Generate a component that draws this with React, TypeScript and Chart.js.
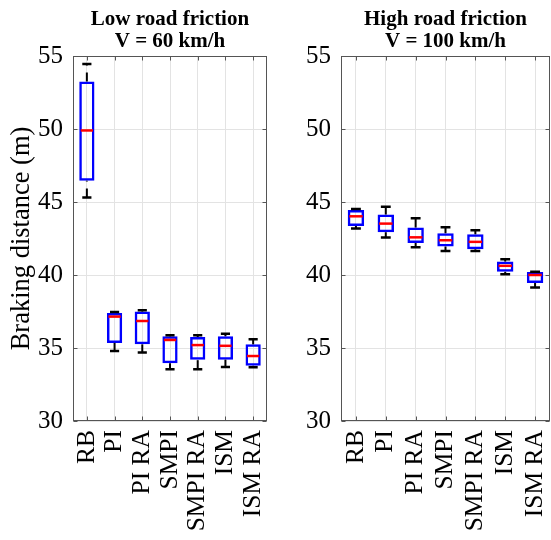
import React, { useEffect, useRef } from 'react';
import { Chart, registerables } from 'chart.js';
Chart.register(...registerables);

const categories = ['RB', 'PI', 'PI RA', 'SMPI', 'SMPI RA', 'ISM', 'ISM RA'];

// Low road friction, V = 60 km/h
const lowMin = [45.3, 34.8, 34.7, 33.55, 33.55, 33.7, 33.68];
const lowQ1 = [46.45, 35.35, 35.25, 33.95, 34.2, 34.2, 33.78];
const lowMed = [49.9, 37.15, 36.85, 35.55, 35.2, 35.15, 34.45];
const lowQ3 = [53.25, 37.4, 37.5, 35.8, 35.75, 35.8, 35.25];
const lowMax = [54.45, 37.47, 37.58, 35.88, 35.88, 35.98, 35.6];

// High road friction, V = 100 km/h
const highMin = [43.18, 42.56, 41.9, 41.64, 41.64, 40.05, 39.14];
const highQ1 = [43.36, 42.93, 42.19, 41.95, 41.76, 40.22, 39.45];
const highMed = [44.02, 43.52, 42.58, 42.38, 42.27, 40.63, 40.0];
const highQ3 = [44.45, 44.14, 43.25, 42.86, 42.79, 40.92, 40.2];
const highMax = [44.52, 44.68, 43.88, 43.27, 43.06, 41.08, 40.22];

const yMin = 30;
const yMax = 55;
const yStep = 5;

const lowTitle = ['Low road friction', 'V = 60 km/h'];
const highTitle = ['High road friction', 'V = 100 km/h'];
const yLabel = 'Braking distance (m)';

const FONT = "'Liberation Serif', 'Times New Roman', Times, serif";
const GRID = '#e3e3e3';
const AXIS = '#555555';

function boxExtras(title: string[], mins: number[], meds: number[], maxs: number[]) {
  return {
    id: 'boxExtras',
    afterDatasetsDraw(chart: any) {
      const ctx = chart.ctx;
      const ys = chart.scales.y;
      const xs = chart.scales.x;
      const area = chart.chartArea;
      const meta = chart.getDatasetMeta(0);
      ctx.save();
      // title centred over the axes
      ctx.fillStyle = '#000000';
      ctx.font = `bold 21px ${FONT}`;
      ctx.textAlign = 'center';
      ctx.textBaseline = 'alphabetic';
      const tcx = (area.left + area.right) / 2;
      title.forEach((line, i) => {
        ctx.fillText(line, tcx, 24.5 + i * 22);
      });
      // frame
      ctx.strokeStyle = AXIS;
      ctx.lineWidth = 1;
      ctx.setLineDash([]);
      const l = Math.round(area.left) + 0.5;
      const r = Math.round(area.right) - 0.5;
      const t = Math.round(area.top) + 0.5;
      const b = Math.round(area.bottom) - 0.5;
      ctx.strokeRect(l, t, r - l, b - t);
      // inward ticks
      ctx.beginPath();
      xs.ticks.forEach((_: any, i: number) => {
        const px = Math.round(xs.getPixelForTick(i)) + 0.5;
        ctx.moveTo(px, b); ctx.lineTo(px, b - 4);
        ctx.moveTo(px, t); ctx.lineTo(px, t + 4);
      });
      ys.ticks.forEach((_: any, i: number) => {
        const py = Math.round(ys.getPixelForTick(i)) + 0.5;
        ctx.moveTo(l, py); ctx.lineTo(l + 4, py);
        ctx.moveTo(r, py); ctx.lineTo(r - 4, py);
      });
      ctx.stroke();

      meta.data.forEach((bar: any, i: number) => {
        const props = bar.getProps(['x', 'y', 'base', 'width'], true);
        const cx = props.x;
        const half = props.width / 2;
        const q3 = Math.min(props.y, props.base);
        const q1 = Math.max(props.y, props.base);
        const pMax = ys.getPixelForValue(maxs[i]);
        const pMin = ys.getPixelForValue(mins[i]);
        const pMed = ys.getPixelForValue(meds[i]);
        const capHalf = half * 0.6;
        ctx.strokeStyle = '#000000';
        ctx.lineWidth = 2;
        ctx.setLineDash([9, 7]);
        ctx.beginPath();
        ctx.moveTo(cx, q3);
        ctx.lineTo(cx, pMax);
        ctx.stroke();
        ctx.beginPath();
        ctx.moveTo(cx, pMin);
        ctx.lineTo(cx, q1);
        ctx.stroke();
        ctx.setLineDash([]);
        ctx.lineWidth = 2.5;
        ctx.beginPath();
        ctx.moveTo(cx - capHalf, pMax);
        ctx.lineTo(cx + capHalf, pMax);
        ctx.moveTo(cx - capHalf, pMin);
        ctx.lineTo(cx + capHalf, pMin);
        ctx.stroke();
        // median
        ctx.strokeStyle = '#ff0000';
        ctx.lineWidth = 2.5;
        ctx.beginPath();
        ctx.moveTo(cx - half + 1.5, pMed);
        ctx.lineTo(cx + half - 1.5, pMed);
        ctx.stroke();
      });
      ctx.restore();
    },
  };
}

function makeConfig(
  title: string[],
  q1: number[], q3: number[], mins: number[], meds: number[], maxs: number[],
  yAxisWidth: number, padRight: number, showYTitle: boolean
): any {
  return {
    type: 'bar',
    data: {
      labels: categories,
      datasets: [
        {
          data: q1.map((v, i) => [v, q3[i]]),
          backgroundColor: 'rgba(255,255,255,0)',
          borderColor: '#0000ff',
          borderWidth: 2.5,
          borderSkipped: false,
          barPercentage: 0.55,
          categoryPercentage: 1,
        },
      ],
    },
    options: {
      responsive: false,
      animation: false,
      layout: { padding: { left: 0, right: padRight, top: 56, bottom: 0 }, autoPadding: false },
      plugins: {
        legend: { display: false },
        tooltip: { enabled: false },
        title: { display: false },
      },
      scales: {
        x: {
          grid: { offset: false, color: GRID, drawTicks: false },
          border: { display: false },
          ticks: {
            minRotation: 90,
            maxRotation: 90,
            autoSkip: false,
            color: '#000000',
            padding: 9,
            font: { family: FONT, size: 25.5 },
          },
          afterFit: (s: any) => {
            s.height = 119;
            s.paddingLeft = 0;
            s.paddingRight = 0;
          },
        },
        y: {
          min: yMin,
          max: yMax,
          grid: { color: GRID, drawTicks: false },
          border: { display: false },
          ticks: {
            stepSize: yStep,
            color: '#000000',
            padding: 10,
            font: { family: FONT, size: 25 },
          },
          title: {
            display: showYTitle,
            text: yLabel,
            color: '#000000',
            font: { family: FONT, size: 26.5 },
            padding: { top: 6, bottom: 0 },
          },
          afterFit: (s: any) => {
            s.width = yAxisWidth;
            s.paddingTop = 0;
            s.paddingBottom = 0;
          },
        },
      },
    },
    plugins: [boxExtras(title, mins, meds, maxs)],
  };
}

export default function App() {
  const leftRef = useRef<HTMLCanvasElement | null>(null);
  const rightRef = useRef<HTMLCanvasElement | null>(null);

  useEffect(() => {
    const c1 = new Chart(
      leftRef.current as HTMLCanvasElement,
      makeConfig(lowTitle, lowQ1, lowQ3, lowMin, lowMed, lowMax, 73, 8, true)
    );
    const c2 = new Chart(
      rightRef.current as HTMLCanvasElement,
      makeConfig(highTitle, highQ1, highQ3, highMin, highMed, highMax, 66, 1, false)
    );
    return () => {
      c1.destroy();
      c2.destroy();
    };
  }, []);

  return (
    <div style={{ position: 'fixed', left: 0, top: 0, width: 551, height: 540, background: '#ffffff' }}>
      <canvas ref={leftRef} width={275} height={540} style={{ position: 'absolute', left: 0, top: 0 }} />
      <canvas ref={rightRef} width={276} height={540} style={{ position: 'absolute', left: 275, top: 0 }} />
    </div>
  );
}
